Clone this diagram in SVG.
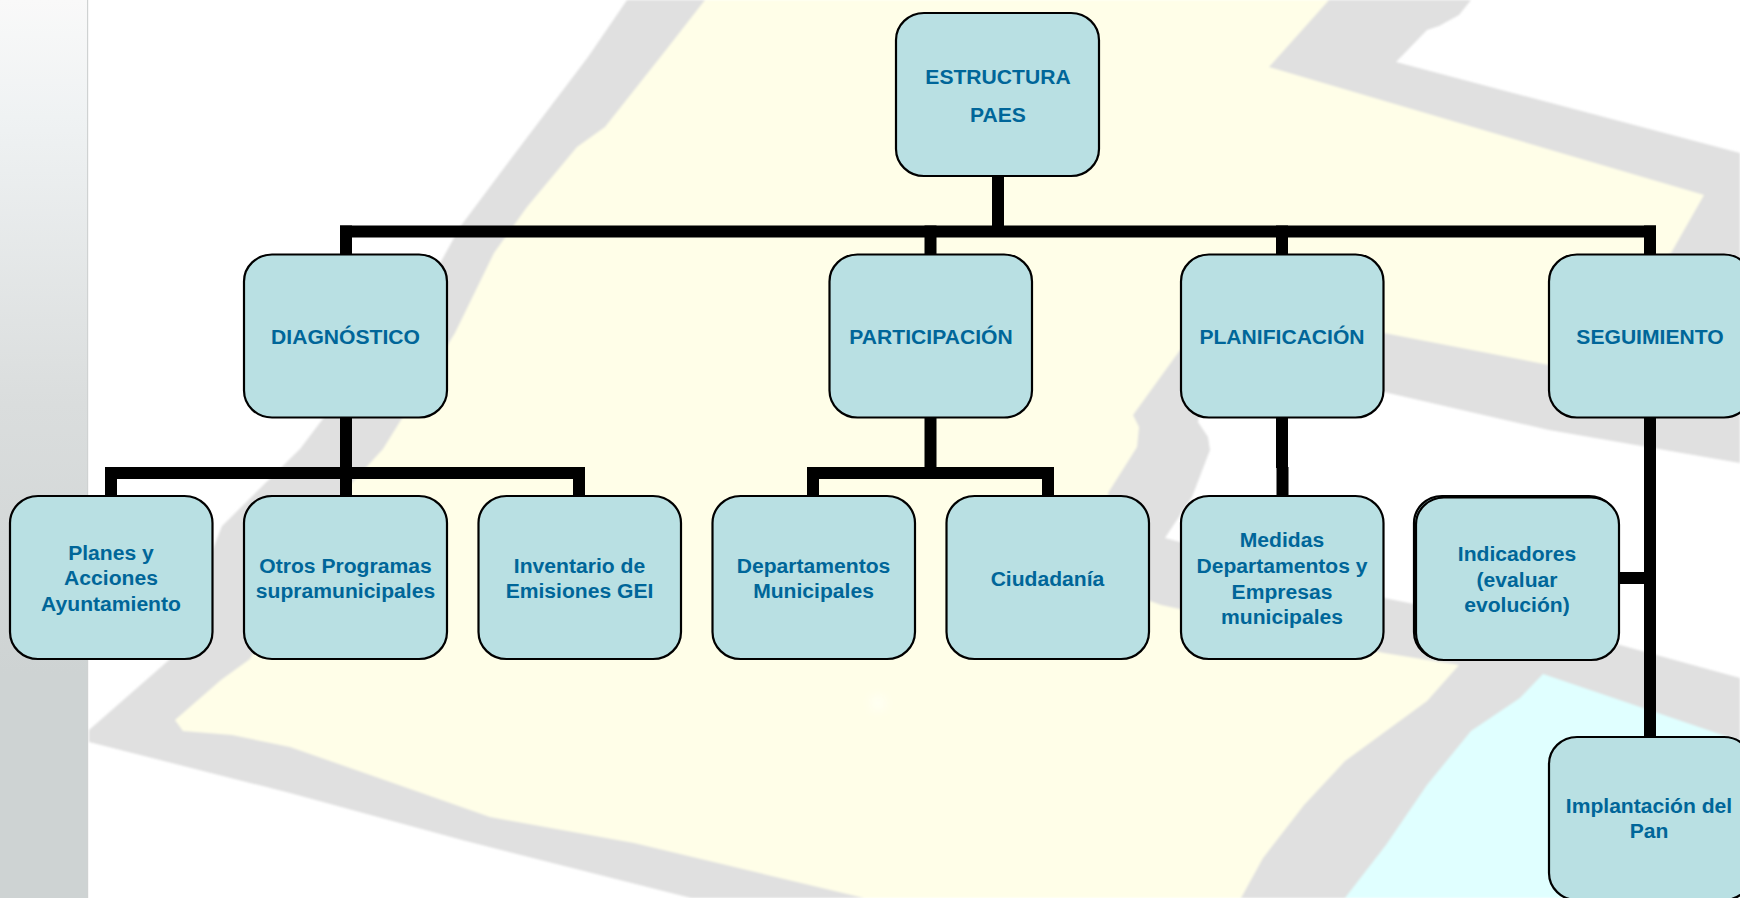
<svg xmlns="http://www.w3.org/2000/svg" width="1740" height="898" viewBox="0 0 1740 898">
<style>
.n{fill:#b9e0e3;stroke:#000;stroke-width:2.2}
.t{font-family:"Liberation Sans",Arial,sans-serif;font-weight:700;font-size:21.1px;fill:#006699;text-anchor:middle}
.c{fill:#000}
</style>
<defs>
<linearGradient id="strip" x1="0" y1="0" x2="0" y2="1">
<stop offset="0" stop-color="#f9f9f9"/><stop offset="0.13" stop-color="#eff2f3"/><stop offset="0.45" stop-color="#dadddd"/><stop offset="0.75" stop-color="#ced3d3"/><stop offset="1" stop-color="#ced3d3"/>
</linearGradient>
<filter id="soft" x="-2%" y="-2%" width="104%" height="104%"><feGaussianBlur stdDeviation="1"/></filter>
<filter id="spot" x="-100%" y="-100%" width="300%" height="300%"><feGaussianBlur stdDeviation="5"/></filter>
</defs>
<rect width="1740" height="898" fill="#fff"/>
<g id="background" filter="url(#soft)">
<path fill="#e0e0e0" d="M627,0 L588,57 L510,160 L460,227 L438,267 L300,449 L222,526 L169,660 L89,730 L89,742 L290,793 L462,840 L691,898 L1740,898 L1740,678 L1620,645 L1384,598 L1180,542 L1165,538 L1192,497 L1210,450 L1208,437 L1198,422 L1200,410 L1384,392 L1549,430 L1740,463 L1740,153 L1396,62 L1427,30 L1439,26 L1459,15 L1471,0 Z"/>
<path fill="#fffee8" d="M705,0 L666,50 L605,127 L577,147 L527,207 L494,253 L455,333 L383,449 L340,496 L250,659 L221,680 L175,720 L183,731 L232,735 L290,747 L376,777 L490,817 L634,843 L864,898 L1241,898 L1263,858 L1304,805 L1345,761 L1427,701 L1459,665 L1384,653 L1161,605 L1120,590 L1108,493 L1137,447 L1139,427 L1133,415 L1180,350 L1384,333 L1549,365 L1600,300 L1671,253 L1704,195 L1269,67 L1329,0 Z"/>
<path fill="#e0ffff" d="M1543,674 L1520,698 L1471,731 L1427,785 L1386,845 L1345,898 L1740,898 L1740,741 L1643,708 Z"/>
<circle cx="878" cy="703" r="8" fill="#fff" opacity="0.5" filter="url(#spot)"/>
</g>
<rect id="side-strip" width="87" height="898" fill="url(#strip)"/>
<rect x="87" width="1.2" height="898" fill="#cfd2d2"/>
<g id="connectors">
<rect class="c" x="992" y="176" width="12" height="60"/>
<rect class="c" x="340" y="225.500" width="1316" height="12"/>
<rect class="c" x="340" y="225.500" width="12" height="30"/>
<rect class="c" x="924.500" y="225.500" width="12" height="30"/>
<rect class="c" x="1276" y="225.500" width="12" height="30"/>
<rect class="c" x="1644" y="225.500" width="12" height="30"/>
<rect class="c" x="340" y="416" width="12" height="81"/>
<rect class="c" x="105" y="467" width="480" height="12"/>
<rect class="c" x="105" y="467" width="12" height="30"/>
<rect class="c" x="573" y="467" width="12" height="30"/>
<rect class="c" x="924.500" y="416" width="12" height="63"/>
<rect class="c" x="807" y="467" width="247" height="12"/>
<rect class="c" x="807" y="467" width="12" height="30"/>
<rect class="c" x="1042" y="467" width="12" height="30"/>
<rect class="c" x="1276" y="416" width="12" height="52"/>
<rect class="c" x="1276.500" y="467" width="12" height="30"/>
<rect class="c" x="1644" y="416" width="12" height="322"/>
<rect class="c" x="1618" y="572" width="30" height="12"/>
</g>
<g id="node-root"><rect class="n" x="896" y="13" width="203" height="163" rx="28" ry="27"/><text class="t" x="998" y="84">ESTRUCTURA</text><text class="t" x="998" y="122">PAES</text></g>
<g id="node-diagnostico"><rect class="n" x="244" y="254.500" width="203" height="163" rx="28" ry="27"/><text class="t" x="345.500" y="344">DIAGNÓSTICO</text></g>
<g id="node-participacion"><rect class="n" x="829.500" y="254.500" width="202.500" height="163" rx="28" ry="27"/><text class="t" x="931" y="344">PARTICIPACIÓN</text></g>
<g id="node-planificacion"><rect class="n" x="1181" y="254.500" width="202.500" height="163" rx="28" ry="27"/><text class="t" x="1282" y="344">PLANIFICACIÓN</text></g>
<g id="node-seguimiento"><rect class="n" x="1549" y="254.500" width="203" height="163" rx="28" ry="27"/><text class="t" x="1650" y="344">SEGUIMIENTO</text></g>
<g id="node-planes"><rect class="n" x="10" y="496" width="202.500" height="163" rx="28" ry="27"/><text class="t" x="111" y="560">Planes y</text><text class="t" x="111" y="585">Acciones</text><text class="t" x="111" y="611">Ayuntamiento</text></g>
<g id="node-otros"><rect class="n" x="244" y="496" width="203" height="163" rx="28" ry="27"/><text class="t" x="345.500" y="572.500">Otros Programas</text><text class="t" x="345.500" y="598">supramunicipales</text></g>
<g id="node-inventario"><rect class="n" x="478.500" y="496" width="202.500" height="163" rx="28" ry="27"/><text class="t" x="579.500" y="572.500">Inventario de</text><text class="t" x="579.500" y="598">Emisiones GEI</text></g>
<g id="node-departamentos"><rect class="n" x="712.500" y="496" width="202.500" height="163" rx="28" ry="27"/><text class="t" x="813.500" y="572.500">Departamentos</text><text class="t" x="813.500" y="598">Municipales</text></g>
<g id="node-ciudadania"><rect class="n" x="946.500" y="496" width="202.500" height="163" rx="28" ry="27"/><text class="t" x="1047.500" y="586">Ciudadanía</text></g>
<g id="node-medidas"><rect class="n" x="1181" y="496" width="202.500" height="163" rx="28" ry="27"/><text class="t" x="1282" y="547">Medidas</text><text class="t" x="1282" y="573">Departamentos y</text><text class="t" x="1282" y="598.500">Empresas</text><text class="t" x="1282" y="624">municipales</text></g>
<g id="node-indicadores"><rect class="n" x="1414" y="496" width="203" height="163" rx="28" ry="27"/><rect class="n" x="1416" y="497.500" width="203" height="162.500" rx="28" ry="27"/><text class="t" x="1517" y="561">Indicadores</text><text class="t" x="1517" y="587">(evaluar</text><text class="t" x="1517" y="612">evolución)</text></g>
<g id="node-implantacion"><rect class="n" x="1549" y="737" width="203" height="163" rx="28" ry="27"/><text class="t" x="1649" y="812.500">Implantación del</text><text class="t" x="1649" y="838">Pan</text></g>
</svg>
